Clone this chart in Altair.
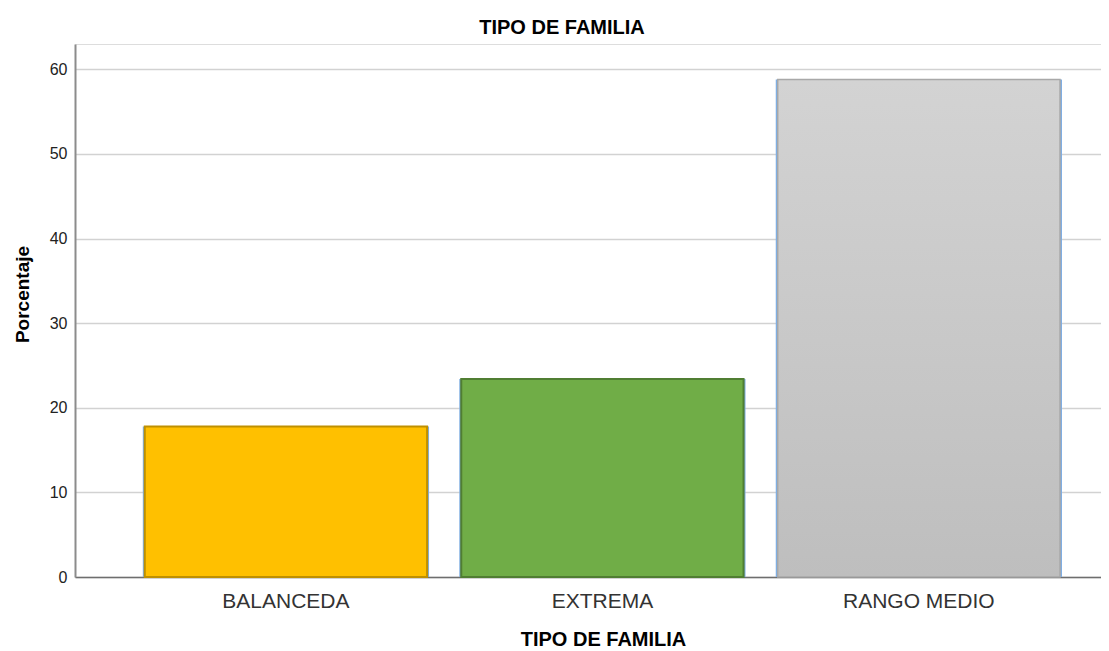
import altair as alt
import pandas as pd

categories = ["BALANCEDA", "EXTREMA", "RANGO MEDIO"]
percentages = [17.8, 23.4, 58.8]
y_ticks = [0, 10, 20, 30, 40, 50, 60]
chart_title = "TIPO DE FAMILIA"
x_title = "TIPO DE FAMILIA"
y_title = "Porcentaje"

df = pd.DataFrame({"Tipo": categories, "Porcentaje": percentages})

FONT = "Liberation Sans"

x_enc = alt.X(
    "Tipo:N",
    sort=categories,
    scale=alt.Scale(paddingInner=0.108, paddingOuter=0.175, align=0.63),
    axis=alt.Axis(
        title=x_title,
        labelAngle=0,
        ticks=False,
        grid=False,
        domainColor="#6e6e6e",
        domainWidth=1.5,
        labelFont=FONT,
        labelFontSize=21,
        labelColor="#333333",
        labelBaseline="alphabetic",
        labelPadding=30,
        titleFont=FONT,
        titleFontSize=20,
        titleFontWeight="bold",
        titleColor="#000000",
        titleBaseline="alphabetic",
        titleX=528,
        titleY=68,
    ),
)

y_enc = alt.Y(
    "Porcentaje:Q",
    scale=alt.Scale(domain=[0, 63], nice=False, zero=True),
    axis=alt.Axis(
        title=y_title,
        values=y_ticks,
        ticks=False,
        grid=True,
        gridColor="#d2d2d2",
        gridWidth=1.5,
        domainColor="#8c8c8c",
        domainWidth=2,
        labelFont=FONT,
        labelFontSize=16,
        labelColor="#222222",
        labelPadding=8,
        titleFont=FONT,
        titleFontSize=19,
        titleFontWeight="bold",
        titleColor="#000000",
        titleBaseline="alphabetic",
        titleX=-47,
        titleY=250,
    ),
)

base = alt.Chart(df).encode(x=x_enc, y=y_enc)

shadow = base.mark_bar(color="#7faee3", width=alt.RelativeBandSize(1.014))

colored = (
    base.transform_filter(alt.datum.Tipo != "RANGO MEDIO")
    .mark_bar(strokeWidth=2)
    .encode(
        fill=alt.Fill(
            "Tipo:N",
            scale=alt.Scale(domain=categories[:2], range=["#FFC000", "#70AD47"]),
            legend=None,
        ),
        stroke=alt.Stroke(
            "Tipo:N",
            scale=alt.Scale(domain=categories[:2], range=["#BF9000", "#507E32"]),
            legend=None,
        ),
    )
)

gray = (
    base.transform_filter(alt.datum.Tipo == "RANGO MEDIO")
    .mark_bar(
        fill=alt.Gradient(
            gradient="linear",
            stops=[
                alt.GradientStop(color="#d3d3d3", offset=0),
                alt.GradientStop(color="#bebebe", offset=1),
            ],
            x1=0, x2=0, y1=0, y2=1,
        ),
        stroke="#a8a8a8",
        strokeWidth=1.5,
    )
)

chart = (
    alt.layer(shadow, colored, gray)
    .properties(
        width=1026,
        height=533,
        autosize=alt.AutoSizeParams(type="none"),
        padding={"left": 67, "top": 36, "right": 0, "bottom": 74},
        title=alt.TitleParams(
            chart_title,
            anchor="middle",
            frame="group",
            font=FONT,
            fontSize=20,
            fontWeight="bold",
            color="#000000",
            baseline="alphabetic",
            offset=10,
            dx=-26,
            dy=20,
        ),
    )
    .configure_view(stroke=None)
    .configure(background="white")
)

chart.save("out.html", embed_options={"renderer": "svg", "actions": False})
